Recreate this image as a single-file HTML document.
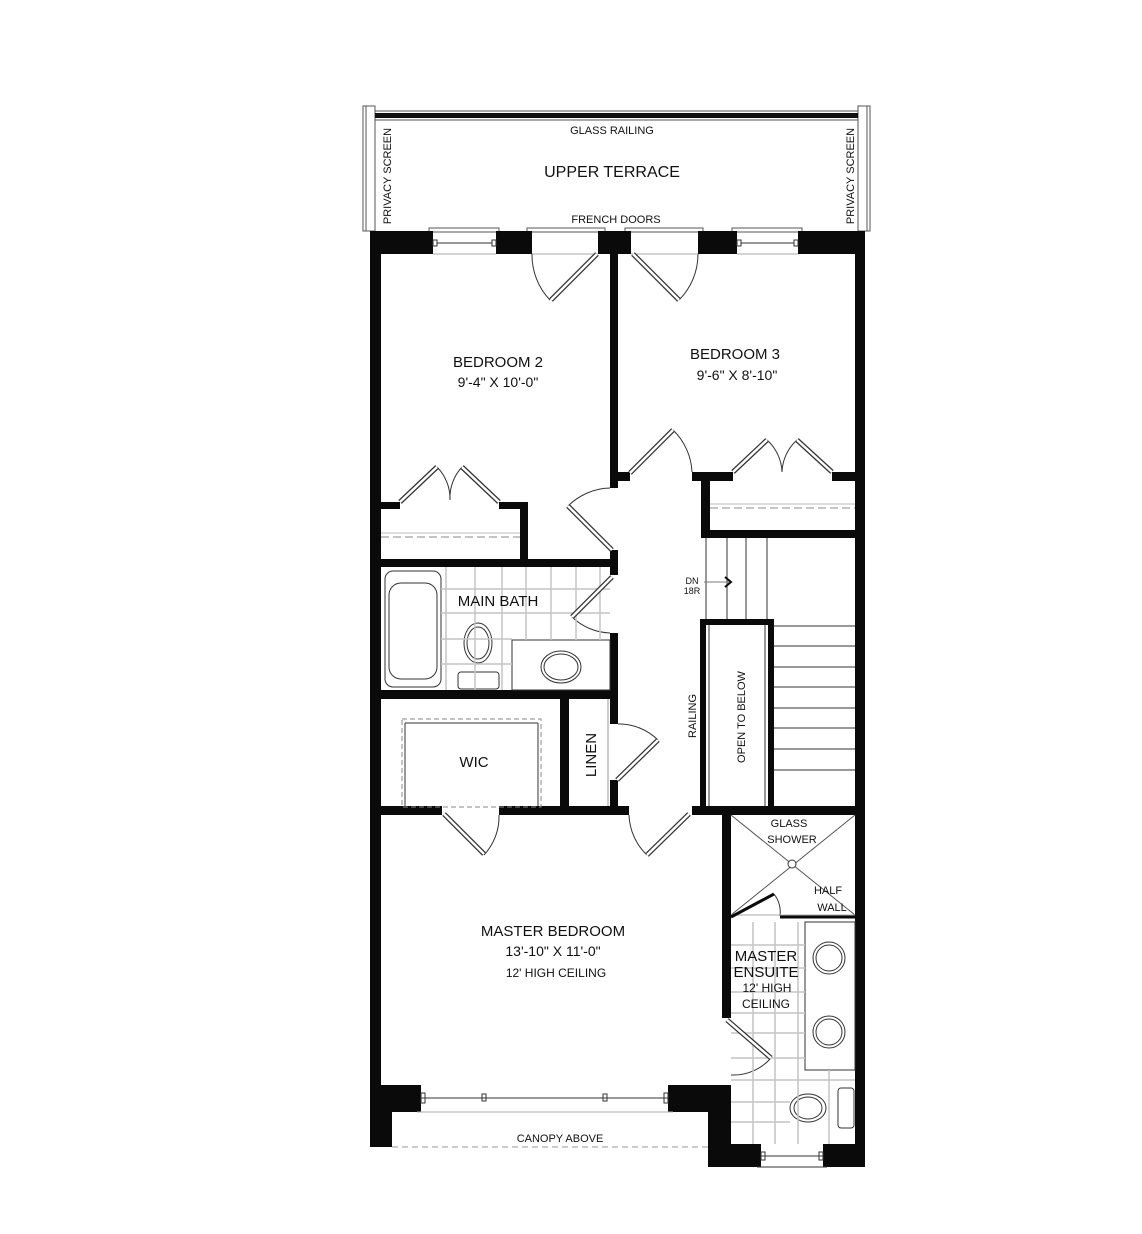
<!DOCTYPE html>
<html><head><meta charset="utf-8"><style>
html,body{margin:0;padding:0;background:#fff;}
svg{display:block;}
text{font-family:"Liberation Sans",sans-serif;fill:#111;}
</style></head><body>
<svg width="1142" height="1234" viewBox="0 0 1142 1234" xmlns="http://www.w3.org/2000/svg">
<g fill="none" stroke="#555" stroke-width="1">
<!-- terrace frame -->
<rect x="363" y="106" width="12" height="125"/>
<rect x="858" y="106" width="12" height="125"/>
<line x1="366" y1="106" x2="366" y2="231"/><line x1="867" y1="106" x2="867" y2="231"/>
<line x1="375" y1="111" x2="858" y2="111"/>
<line x1="375" y1="120" x2="858" y2="120"/>
<!-- window sills top -->
<rect x="429" y="228" width="70" height="4"/>
<rect x="527" y="228" width="78" height="4"/>
<rect x="625" y="228" width="78" height="4"/>
<rect x="732" y="228" width="70" height="4"/>
</g>
<rect x="375" y="113" width="483" height="5" fill="#111"/>
<g fill="#0a0a0a">
<!-- top wall row -->
<rect x="370" y="231" width="63" height="23"/>
<rect x="496" y="231" width="36" height="23"/>
<rect x="598" y="231" width="33" height="23"/>
<rect x="698" y="231" width="39" height="23"/>
<rect x="798" y="231" width="67" height="23"/>
<!-- exterior walls -->
<rect x="370" y="231" width="11" height="916"/>
<rect x="855" y="231" width="10" height="936"/>
<!-- center wall -->
<rect x="610" y="231" width="8" height="257"/>
<rect x="610" y="472" width="20" height="9"/>
<rect x="692" y="472" width="41" height="9"/>
<rect x="832" y="472" width="23" height="9"/>
<rect x="701" y="472" width="9" height="66"/>
<rect x="701" y="530" width="154" height="8"/>
<!-- bedroom2 closet -->
<rect x="381" y="502" width="19" height="7"/>
<rect x="499" y="502" width="29" height="7"/>
<rect x="520" y="502" width="8" height="65"/>
<rect x="381" y="559" width="237" height="8"/>
<rect x="610" y="550" width="8" height="25"/>
<!-- bath -->
<rect x="610" y="633" width="8" height="66"/>
<rect x="381" y="690" width="237" height="9"/>
<rect x="560" y="699" width="9" height="108"/>
<rect x="610" y="699" width="8" height="25"/>
<rect x="610" y="780" width="8" height="35"/>
<!-- wall row 806 -->
<rect x="370" y="806" width="72" height="9"/>
<rect x="499" y="806" width="130" height="9"/>
<rect x="692" y="806" width="173" height="9"/>
<!-- open to below box -->
<rect x="700" y="619" width="6" height="188"/>
<rect x="768" y="619" width="6" height="188"/>
<rect x="700" y="619" width="74" height="6"/>
<!-- ensuite wall -->
<rect x="722" y="806" width="9" height="212"/>
<!-- bottom -->
<rect x="370" y="1085" width="51" height="27"/>
<rect x="370" y="1085" width="22" height="62"/>
<rect x="668" y="1085" width="63" height="27"/>
<rect x="708" y="1085" width="23" height="82"/>
<rect x="708" y="1144" width="53" height="23"/>
<rect x="823" y="1144" width="42" height="23"/>
</g>
<g fill="none" stroke="#333" stroke-width="1">
<!-- top windows -->
<line x1="437" y1="243" x2="492" y2="243"/><rect x="433" y="240" width="4" height="6"/><rect x="492" y="240" width="4" height="6"/>
<line x1="741" y1="243" x2="794" y2="243"/><rect x="737" y="240" width="4" height="6"/><rect x="794" y="240" width="4" height="6"/>
<line x1="433" y1="254" x2="496" y2="254" stroke="#aaa"/><line x1="737" y1="254" x2="798" y2="254" stroke="#aaa"/>
<line x1="532" y1="254" x2="598" y2="254" stroke="#aaa"/><line x1="631" y1="254" x2="698" y2="254" stroke="#aaa"/>
<!-- french doors -->
<path d="M532 254 A65 65 0 0 0 550 300"/>
<path d="M698 254 A65 65 0 0 1 679 300"/>
<!-- bedroom3 hall door -->
<path d="M673 430 A62 62 0 0 1 692 472"/>
<!-- b3 closet bifolds -->
<path d="M767 440 A45 45 0 0 1 782 472"/><path d="M797 440 A45 45 0 0 0 782 472"/>
<path d="M437 467 A45 45 0 0 1 450 500"/><path d="M462 467 A45 45 0 0 0 450 500"/>
<!-- bedroom2 door -->
<path d="M568 506 A62 62 0 0 1 610 488"/>
<!-- bath door -->
<path d="M572 617 A58 58 0 0 0 610 633"/>
<!-- linen door -->
<path d="M618 724 A56 56 0 0 1 658 740"/>
<!-- wic/master doors -->
<path d="M499 815 A56 56 0 0 1 484 855"/>
<path d="M629 815 A58 58 0 0 0 647 855"/>
<!-- tub -->
<rect x="385" y="571" width="56" height="116" rx="8"/>
<rect x="389" y="583" width="48" height="96" rx="12"/>
<!-- vanity -->
<rect x="512" y="640" width="98" height="50"/>
<ellipse cx="561" cy="667" rx="20" ry="16"/><ellipse cx="561" cy="667" rx="17" ry="13"/>
<ellipse cx="478" cy="643" rx="14" ry="20"/><ellipse cx="478" cy="643" rx="11" ry="16"/>
<rect x="458" y="672" width="41" height="17" rx="3"/>
<!-- wic -->
<rect x="402" y="719" width="139" height="88" stroke-dasharray="5 3" stroke="#888"/>
<line x1="405" y1="723" x2="538" y2="723"/><line x1="405" y1="723" x2="405" y2="806"/><line x1="538" y1="723" x2="538" y2="806"/>
<line x1="608" y1="699" x2="608" y2="806" stroke="#999"/>
<!-- stairs -->
<line x1="706" y1="538" x2="706" y2="619"/>
<line x1="727" y1="538" x2="727" y2="619"/>
<line x1="746" y1="538" x2="746" y2="619"/>
<line x1="767" y1="538" x2="767" y2="619"/>
<line x1="774" y1="626" x2="855" y2="626"/><line x1="774" y1="646" x2="855" y2="646"/>
<line x1="774" y1="667" x2="855" y2="667"/><line x1="774" y1="687" x2="855" y2="687"/>
<line x1="774" y1="708" x2="855" y2="708"/><line x1="774" y1="728" x2="855" y2="728"/>
<line x1="774" y1="749" x2="855" y2="749"/><line x1="774" y1="770" x2="855" y2="770"/>
<line x1="709" y1="625" x2="709" y2="806"/><line x1="765" y1="625" x2="765" y2="806"/>
<line x1="704" y1="582" x2="729" y2="582" stroke="#777"/>
<!-- dashed closets -->
<line x1="710" y1="508" x2="855" y2="508" stroke-dasharray="8 4" stroke="#888"/>
<line x1="710" y1="504" x2="855" y2="504" stroke="#bbb"/>
<line x1="381" y1="537" x2="520" y2="537" stroke-dasharray="8 4" stroke="#888"/>
<line x1="381" y1="533" x2="520" y2="533" stroke="#bbb"/>
<!-- shower -->
<line x1="731" y1="815" x2="855" y2="915" stroke="#555"/>
<line x1="855" y1="815" x2="731" y2="915" stroke="#555"/>
<circle cx="792" cy="864" r="4" fill="#fff"/>
<path d="M774 894 A30 30 0 0 1 780 916"/>
<line x1="731" y1="915" x2="855" y2="915" stroke="#aaa"/>
<!-- vanity ensuite -->
<rect x="805" y="922" width="50" height="148"/>
<circle cx="829" cy="958" r="16"/><circle cx="829" cy="958" r="13"/>
<circle cx="829" cy="1032" r="16"/><circle cx="829" cy="1032" r="13"/>
<ellipse cx="808" cy="1108" rx="18" ry="14"/><ellipse cx="808" cy="1108" rx="14" ry="11"/>
<rect x="838" y="1088" width="16" height="40" rx="3"/>
<path d="M771 1058 A50 50 0 0 1 731 1075"/>
<!-- bottom windows -->
<line x1="421" y1="1098" x2="668" y2="1098"/>
<rect x="421" y="1093" width="4" height="10"/><rect x="664" y="1093" width="4" height="10"/>
<rect x="482" y="1094" width="4" height="7"/><rect x="603" y="1094" width="4" height="7"/>
<line x1="417" y1="1112" x2="673" y2="1112" stroke="#aaa"/>
<line x1="392" y1="1147" x2="708" y2="1147" stroke-dasharray="6 4" stroke="#999"/>
<line x1="761" y1="1156" x2="823" y2="1156"/>
<rect x="761" y="1152" width="4" height="8"/><rect x="819" y="1152" width="4" height="8"/>
<line x1="757" y1="1167" x2="827" y2="1167"/>
</g>
<!-- tile grids -->
<g stroke="#c4c4c4" stroke-width="1.5">
<line x1="446" y1="567" x2="446" y2="690"/><line x1="475" y1="567" x2="475" y2="690"/>
<line x1="502" y1="567" x2="502" y2="690"/><line x1="526" y1="567" x2="526" y2="640"/>
<line x1="551" y1="567" x2="551" y2="640"/><line x1="576" y1="567" x2="576" y2="640"/>
<line x1="600" y1="567" x2="600" y2="640"/>
<line x1="441" y1="589" x2="610" y2="589"/><line x1="441" y1="613" x2="610" y2="613"/>
<line x1="441" y1="639" x2="512" y2="639"/><line x1="441" y1="664" x2="512" y2="664"/>
<line x1="753" y1="922" x2="753" y2="1144"/><line x1="775" y1="922" x2="775" y2="1144"/>
<line x1="798" y1="922" x2="798" y2="1144"/><line x1="829" y1="1070" x2="829" y2="1144"/>
<line x1="731" y1="945" x2="805" y2="945"/><line x1="731" y1="968" x2="805" y2="968"/>
<line x1="731" y1="992" x2="805" y2="992"/><line x1="731" y1="1013" x2="805" y2="1013"/>
<line x1="731" y1="1033" x2="805" y2="1033"/><line x1="731" y1="1058" x2="805" y2="1058"/>
<line x1="731" y1="1080" x2="855" y2="1080"/><line x1="731" y1="1102" x2="790" y2="1102"/>
<line x1="731" y1="1122" x2="790" y2="1122"/>
</g>
<!-- door leaves -->
<g stroke="#333" stroke-width="5" stroke-linecap="butt">
<line x1="597" y1="254" x2="551" y2="300"/>
<line x1="633" y1="254" x2="679" y2="300"/>
<line x1="630" y1="473" x2="673" y2="430"/>
<line x1="733" y1="472" x2="767" y2="440"/><line x1="832" y1="472" x2="797" y2="440"/>
<line x1="400" y1="502" x2="437" y2="467"/><line x1="499" y1="502" x2="462" y2="467"/>
<line x1="612" y1="550" x2="568" y2="506"/>
<line x1="612" y1="577" x2="572" y2="617"/>
<line x1="617" y1="780" x2="658" y2="740"/>
<line x1="444" y1="814" x2="484" y2="854"/>
<line x1="689" y1="814" x2="647" y2="855"/>
<line x1="727" y1="1020" x2="771" y2="1058"/>
</g>
<g stroke="#fff" stroke-width="2.5">
<line x1="597" y1="254" x2="551" y2="300"/>
<line x1="633" y1="254" x2="679" y2="300"/>
<line x1="630" y1="473" x2="673" y2="430"/>
<line x1="733" y1="472" x2="767" y2="440"/><line x1="832" y1="472" x2="797" y2="440"/>
<line x1="400" y1="502" x2="437" y2="467"/><line x1="499" y1="502" x2="462" y2="467"/>
<line x1="612" y1="550" x2="568" y2="506"/>
<line x1="612" y1="577" x2="572" y2="617"/>
<line x1="617" y1="780" x2="658" y2="740"/>
<line x1="444" y1="814" x2="484" y2="854"/>
<line x1="689" y1="814" x2="647" y2="855"/>
<line x1="727" y1="1020" x2="771" y2="1058"/>
</g>
<g stroke="#0a0a0a" stroke-width="3" fill="none">
<line x1="731" y1="917" x2="774" y2="894"/>
<line x1="780" y1="917" x2="855" y2="917"/>
<path d="M725 577 L731 582 L725 587" stroke-width="2"/>
</g>
<!-- labels -->
<g text-anchor="middle">
<text x="612" y="134" font-size="11">GLASS RAILING</text>
<text x="612" y="177" font-size="16">UPPER TERRACE</text>
<text x="616" y="223" font-size="11">FRENCH DOORS</text>
<text x="0" y="0" font-size="11" transform="translate(391,176) rotate(-90)">PRIVACY SCREEN</text>
<text x="0" y="0" font-size="11" transform="translate(854,176) rotate(-90)">PRIVACY SCREEN</text>
<text x="498" y="367" font-size="15">BEDROOM 2</text>
<text x="498" y="387" font-size="14">9'-4" X 10'-0"</text>
<text x="735" y="359" font-size="15">BEDROOM 3</text>
<text x="737" y="380" font-size="14">9'-6" X 8'-10"</text>
<text x="498" y="606" font-size="15">MAIN BATH</text>
<text x="692" y="584" font-size="9">DN</text>
<text x="692" y="594" font-size="9">18R</text>
<text x="0" y="0" font-size="11" transform="translate(696,716) rotate(-90)">RAILING</text>
<text x="0" y="0" font-size="11" transform="translate(745,717) rotate(-90)">OPEN TO BELOW</text>
<text x="0" y="0" font-size="15" transform="translate(596,755) rotate(-90)">LINEN</text>
<text x="474" y="767" font-size="15">WIC</text>
<text x="789" y="827" font-size="11">GLASS</text>
<text x="792" y="843" font-size="11">SHOWER</text>
<text x="828" y="894" font-size="11">HALF</text>
<text x="832" y="911" font-size="11">WALL</text>
<text x="553" y="936" font-size="15">MASTER BEDROOM</text>
<text x="553" y="956" font-size="14">13'-10" X 11'-0"</text>
<text x="556" y="977" font-size="12">12' HIGH CEILING</text>
<text x="766" y="961" font-size="15">MASTER</text>
<text x="766" y="977" font-size="15">ENSUITE</text>
<text x="767" y="992" font-size="12">12' HIGH</text>
<text x="766" y="1008" font-size="12">CEILING</text>
<text x="560" y="1142" font-size="11">CANOPY ABOVE</text>
</g>
</svg>
</body></html>
